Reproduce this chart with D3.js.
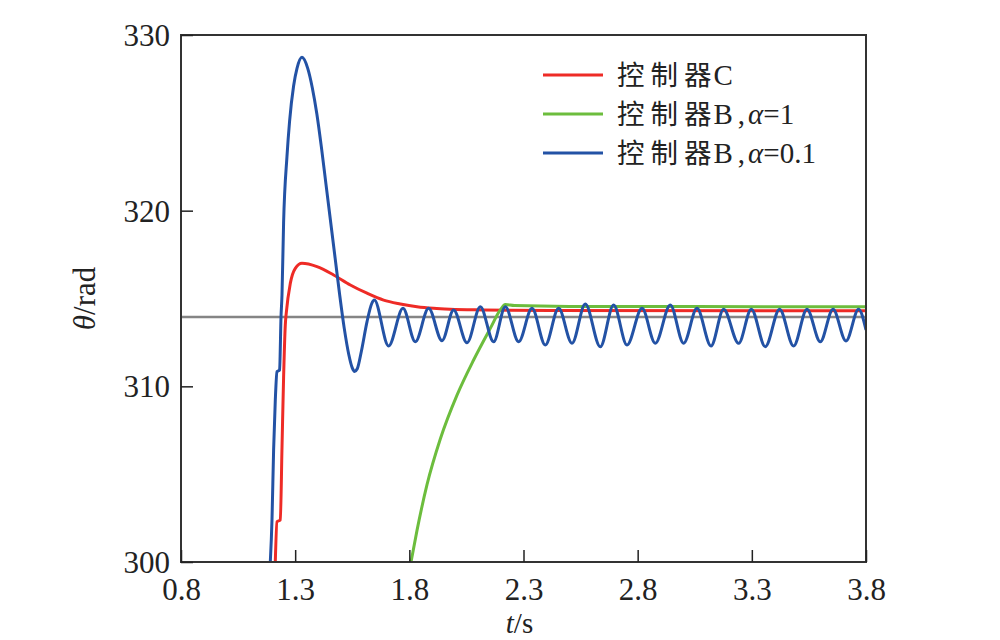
<!DOCTYPE html>
<html><head><meta charset="utf-8">
<script src="https://cdn.jsdelivr.net/npm/d3@7/dist/d3.min.js"></script>
<style>body{margin:0;background:#fff}</style>
</head><body>
<svg id="c" width="1000" height="640"></svg>
<script>
// ---- data ----
const xTicks = [0.8, 1.3, 1.8, 2.3, 2.8, 3.3, 3.8];
const yTicks = [300, 310, 320, 330];
const refValue = 313.95;
const legendLabels = ["控制器C", "控制器B,α=1", "控制器B,α=0.1"];

const seriesC = [[1.213,300],[1.2204,302.29],[1.2349,302.39],[1.2423,306.5],[1.2493,310.5],[1.2568,313.5],
  [1.2612,314.2],[1.2787,315.86],[1.3006,316.72],[1.3299,317.0],[1.3956,316.81],[1.4683,316.34],[1.5415,315.77],
  [1.6146,315.30],[1.6873,314.91],[1.7604,314.69],[1.8336,314.53],[1.9063,314.44],[1.9794,314.39],[2.1253,314.35],
  [2.4174,314.31],[3.8,314.30]];

const seriesB1 = [[1.8073,300],[1.8336,301.8],[1.8774,304.4],[1.9356,307.0],[2.0088,309.5],[2.0815,311.5],
  [2.1546,313.3],[2.1984,314.35],[2.2203,314.66],[2.26,314.6],[2.5,314.55],[3.8,314.53]];

const seriesB01 = [[1.1911,300],[1.1985,302.39],[1.2056,306.38],[1.213,309.22],[1.2204,310.83],[1.2318,310.93],
  [1.2380,313.96],[1.2423,315.2],[1.2493,319.3],[1.2642,323.1],[1.2756,325.1],[1.2931,327.1],[1.3080,328.1],
  [1.3299,328.73],[1.355,328.1],[1.375,327.0],[1.395,325.5],[1.415,323.6],[1.435,321.5],[1.455,319.4],
  [1.475,317.3],[1.495,315.2],[1.515,313.3],[1.535,311.8],[1.550,311.05],[1.560,310.85],[1.572,311.0],
  [1.590,312.0],[1.615,313.7],[1.635,314.7],
  [1.6466,314.91],[1.7092,312.30],[1.7723,314.44],[1.8262,312.54],[1.8844,314.44],[1.9431,312.60],[1.9939,314.35],
  [2.0526,312.48],[2.1108,314.53],[2.1691,312.54],[2.2203,314.53],[2.2786,312.54],[2.3372,314.44],[2.3955,312.35],
  [2.4537,314.44],[2.5124,312.45],[2.5706,314.69],[2.6363,312.25],[2.6946,314.63],[2.7533,312.35],[2.8190,314.44],
  [2.8772,312.45],[2.9429,314.63],[3.0012,312.45],[3.0599,314.44],[3.1212,312.30],[3.1764,314.39],[3.2421,312.45],
  [3.2977,314.39],[3.3590,312.26],[3.4216,314.39],[3.4829,312.30],[3.5416,314.39],[3.5998,312.54],[3.6555,314.39],
  [3.7124,312.58],[3.7676,314.39],[3.8,313.21]];

const colors = ["#ee2b26", "#6cbd3d", "#2352a5"];

// ---- drawing ----
const svg = d3.select("#c");
const L = 181, R = 866, T = 35, B = 562;
const x = d3.scaleLinear().domain([0.8, 3.8]).range([L, R]);
const y = d3.scaleLinear().domain([300, 330]).range([B, T]);
const serif = "'Liberation Serif','Times New Roman',serif";
const cjk = "'Noto Sans CJK SC','Noto Sans CJK JP',sans-serif";

svg.append("defs").append("clipPath").attr("id","clip")
  .append("rect").attr("x",L).attr("y",T).attr("width",R-L).attr("height",B-T);

// reference line
svg.append("line").attr("x1",x(0.8)).attr("x2",x(3.8)).attr("y1",y(refValue)).attr("y2",y(refValue))
  .attr("stroke","#858585").attr("stroke-width",2.6);

const line = d3.line().x(d=>x(d[0])).y(d=>y(d[1])).curve(d3.curveMonotoneX);
const g = svg.append("g").attr("clip-path","url(#clip)");
[[seriesC,0],[seriesB1,1],[seriesB01,2]].forEach(([s,i])=>{
  g.append("path").datum(s).attr("d",line).attr("fill","none")
   .attr("stroke",colors[i]).attr("stroke-width",3).attr("stroke-linejoin","round");
});

// frame
svg.append("rect").attr("x",L).attr("y",T).attr("width",R-L).attr("height",B-T)
  .attr("fill","none").attr("stroke","#333").attr("stroke-width",2);

// axes with inward ticks
const xAxis = d3.axisBottom(x).tickValues(xTicks).tickSize(-12).tickPadding(16).tickFormat(d3.format(".1f"));
const gx = svg.append("g").attr("transform",`translate(0,${B})`).call(xAxis);
const yAxis = d3.axisLeft(y).tickValues(yTicks).tickSize(-12).tickPadding(11).tickFormat(d3.format("d"));
const gy = svg.append("g").attr("transform",`translate(${L},0)`).call(yAxis);
[gx,gy].forEach(a=>{
  a.attr("font-family",serif).attr("font-size",31);
  a.select(".domain").remove();
  a.selectAll(".tick line").attr("stroke","#222").attr("stroke-width",1.5);
  a.selectAll(".tick text").attr("font-family",serif).attr("font-size",31).attr("fill","#222");
});
gx.selectAll(".tick text").attr("dy","0.71em");
gy.selectAll(".tick text").attr("dy","0.34em");

// axis titles
const xt = svg.append("text").attr("x",(L+R)/2 - 4).attr("y",633).attr("text-anchor","middle")
  .attr("font-family",serif).attr("font-size",29).attr("fill","#222");
xt.append("tspan").attr("font-style","italic").text("t");
xt.append("tspan").text("/s");

const yt = svg.append("text").attr("transform",`translate(95,${(T+B)/2}) rotate(-90)`).attr("text-anchor","middle")
  .attr("font-family",serif).attr("font-size",31).attr("fill","#222");
yt.append("tspan").attr("font-style","italic").text("θ");
yt.append("tspan").text("/rad");

// legend
const lg = svg.append("g");
const ly = [75, 114, 153];
legendLabels.forEach((lab,i)=>{
  lg.append("line").attr("x1",543).attr("x2",603).attr("y1",ly[i]).attr("y2",ly[i])
    .attr("stroke",colors[i]).attr("stroke-width",3);
  const t = lg.append("text").attr("x",617).attr("y",ly[i]+10).attr("fill","#222");
  const m = lab.match(/^([\u4e00-\u9fff]+)(.*)$/);
  Array.from(m[1]).forEach((ch,k)=>{
    t.append("tspan").attr("font-family",cjk).attr("font-size",27.5).attr("dx",k ? 6 : 0).text(ch);
  });
  const rest = m[2];
  t.append("tspan").attr("font-family",serif).attr("font-size",29).attr("dx",2).text(rest[0]);
  if (rest.length > 1) {
    const tail = rest.slice(1);               // ",α=1"
    const ai = tail.indexOf("α");
    t.append("tspan").attr("font-family",serif).attr("font-size",29).attr("dx",5).text(tail.slice(0,ai));
    t.append("tspan").attr("font-family",serif).attr("font-size",29).attr("font-style","italic").attr("dx",3).text("α");
    t.append("tspan").attr("font-family",serif).attr("font-size",29).text(tail.slice(ai+1));
  }
});
</script>
</body></html>
